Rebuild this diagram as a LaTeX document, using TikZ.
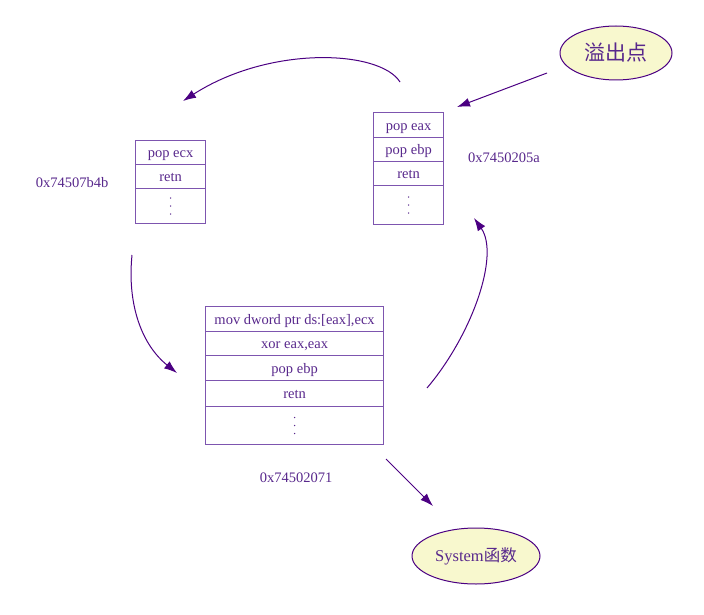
\documentclass[tikz,border=0pt]{standalone}
\usepackage{fontspec}
\setmainfont{Liberation Serif}
\newfontfamily\cjk{Noto Sans CJK SC}
\usetikzlibrary{shapes.geometric,arrows.meta,calc}
\definecolor{ink}{RGB}{75,0,130}
\definecolor{txt}{RGB}{88,40,140}
\definecolor{boxc}{RGB}{125,85,175}
\definecolor{elfill}{RGB}{248,248,206}
\begin{document}
\begin{tikzpicture}[x=1pt,y=-1pt,
  cell/.style={draw=boxc, line width=1.2pt, text=txt, inner sep=0pt, anchor=north west,
    text height=10pt, text depth=0pt, font=\fontsize{14.5}{14.5}\selectfont},
  dotcell/.style={cell},
  lbl/.style={text=txt, inner sep=0pt, font=\fontsize{14.5}{14.5}\selectfont},
  oval/.style={ellipse, draw=ink, line width=1pt, fill=elfill, text=txt, inner sep=0pt},
  conn/.style={draw=ink, line width=1pt, -{Latex[length=13pt,width=9pt]}},
  dotmark/.style={fill=txt}]
\useasboundingbox (0,0) rectangle (704,615);
% right box
\node[cell, minimum width=70pt, minimum height=25pt] (ra) at (373,112) {pop eax};
\node[cell, minimum width=70pt, minimum height=24pt] (rb) at (373,137) {pop ebp};
\node[cell, minimum width=70pt, minimum height=24pt] (rc) at (373,161) {retn};
\node[dotcell, minimum width=70pt, minimum height=39pt] (rd) at (373,185) {};
\node[lbl] (lr) at (504,158) {0x7450205a};
% left box
\node[cell, minimum width=70pt, minimum height=24pt] (la) at (135,140) {pop ecx};
\node[cell, minimum width=70pt, minimum height=24pt] (lb) at (135,164) {retn};
\node[dotcell, minimum width=70pt, minimum height=35pt] (lc) at (135,188) {};
\node[lbl] (ll) at (72,183) {0x74507b4b};
% middle box
\node[cell, minimum width=178pt, minimum height=25pt] (ma) at (205,306) {mov dword ptr ds:[eax],ecx};
\node[cell, minimum width=178pt, minimum height=24pt] (mb) at (205,331) {xor eax,eax};
\node[cell, minimum width=178pt, minimum height=25pt] (mc) at (205,355) {pop ebp};
\node[cell, minimum width=178pt, minimum height=26pt] (md) at (205,380) {retn};
\node[dotcell, minimum width=178pt, minimum height=38pt] (me) at (205,406) {};
\node[lbl] (lm) at (296,478) {0x74502071};
% dots
\foreach \c in {rd,lc,me}{
  \foreach \dy in {-8,0,8}{
    \fill[dotmark] ($(\c.center)+(0,\dy)$) circle (0.75pt);
  }
}
% ellipses
\node[oval, minimum width=112pt, minimum height=54pt, font=\cjk\fontsize{21}{21}\selectfont] (ov) at (616,53) {溢出点};
\node[oval, minimum width=128pt, minimum height=56pt, font=\fontsize{16.5}{16.5}\selectfont] (sys) at (476,556) {System{\cjk 函数}};
% connector ends
\coordinate (p1s) at (547,73);
\coordinate (p1e) at (457,107);
\coordinate (p2s) at (400,82);
\coordinate (p2e) at (183,101);
\coordinate (p3s) at (132,255);
\coordinate (p3e) at (177,373);
\coordinate (p4s) at (427,388);
\coordinate (p4e) at (474,218);
\coordinate (p5s) at (386,459);
\coordinate (p5e) at (433,506);
\draw[conn] (p1s) -- (p1e);
\draw[conn] (p2s) .. controls (380,50) and (270,45) .. (p2e);
\draw[conn] (p3s) .. controls (127,305) and (142,345) .. (p3e);
\draw[conn] (p4s) .. controls (472,335) and (500,255) .. (p4e);
\draw[conn] (p5s) -- (p5e);
\end{tikzpicture}
\end{document}
